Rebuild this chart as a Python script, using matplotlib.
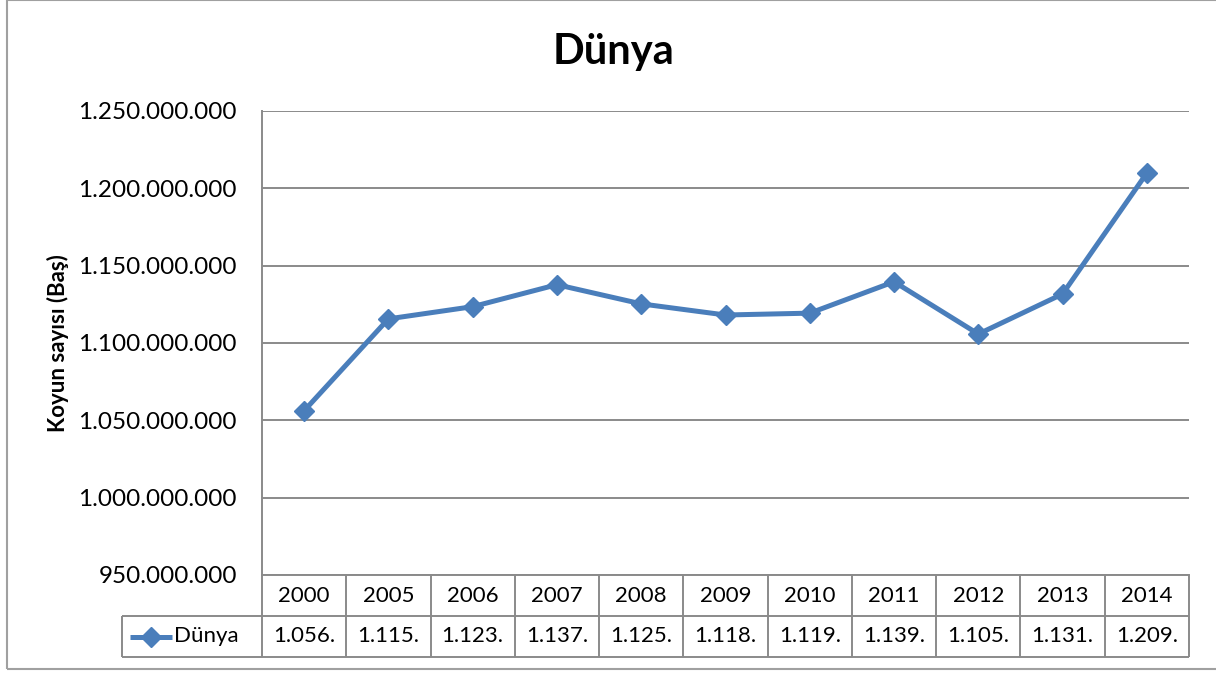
import numpy as np
import matplotlib
matplotlib.use('Agg')
import matplotlib.pyplot as plt
from matplotlib.lines import Line2D
from matplotlib.patches import Rectangle

plt.rcParams['font.family'] = ['Lato', 'DejaVu Sans']

years = ['2000', '2005', '2006', '2007', '2008', '2009', '2010', '2011', '2012', '2013', '2014']
dunya = [1056200000, 1115600000, 1123500000, 1137700000, 1125300000, 1118100000,
         1119300000, 1139600000, 1105800000, 1131700000, 1209900000]
series_name = 'Dünya'
y_ticks = [950000000, 1000000000, 1050000000, 1100000000, 1150000000, 1200000000, 1250000000]

blue = '#4a7ebb'
grid_c = '#8a8a8a'


def tr_fmt(v):
    return f'{int(v):,}'.replace(',', '.')


fig = plt.figure(figsize=(12.16, 6.73), dpi=100)
ax = fig.add_axes([262 / 1216, 98 / 673, 927 / 1216, 464 / 673])

x = np.arange(len(years))
ax.plot(x, dunya, color=blue, lw=3.6, marker='D', markersize=10, zorder=3)

ax.set_xlim(-0.5, len(years) - 0.5)
ax.set_ylim(y_ticks[0], y_ticks[-1])
ax.set_yticks(y_ticks)
ax.set_yticklabels([tr_fmt(v) for v in y_ticks], fontsize=17.5)
ax.tick_params(axis='y', length=0, pad=18)
ax.set_xticks([])
ax.grid(axis='y', color=grid_c, lw=1.4)
ax.set_axisbelow(True)
for s in ['top', 'right']:
    ax.spines[s].set_visible(False)
ax.spines['left'].set_color(grid_c)
ax.spines['bottom'].set_color(grid_c)
ax.spines['left'].set_linewidth(1.4)
ax.spines['bottom'].set_linewidth(1.4)

# data table under the plot
row_h = 41 / 464
leg_left = (122 - 262) / 927
xt = ax.get_xaxis_transform()
ax.vlines(np.arange(len(years) + 1) - 0.5, -2 * row_h, 0, transform=xt,
          color=grid_c, lw=1.4, clip_on=False)
ax.hlines([-row_h, -2 * row_h], leg_left, 1, transform=ax.transAxes,
          color=grid_c, lw=1.4, clip_on=False)
ax.vlines([leg_left], -2 * row_h, -row_h, transform=ax.transAxes,
          color=grid_c, lw=1.4, clip_on=False)
for i, (yr, v) in enumerate(zip(years, dunya)):
    ax.text(i, -row_h / 2, yr, transform=xt, ha='center', va='center', fontsize=16)
    ax.text(i, -1.5 * row_h, tr_fmt(v)[:6], transform=xt, ha='center', va='center', fontsize=16)

ax.add_line(Line2D([(130 - 262) / 927, (172 - 262) / 927], [-1.5 * row_h] * 2,
                   transform=ax.transAxes, color=blue, lw=3.6, clip_on=False,
                   solid_capstyle='butt'))
ax.add_line(Line2D([(151 - 262) / 927], [-1.5 * row_h], transform=ax.transAxes,
                   color=blue, marker='D', markersize=10, clip_on=False))
ax.text((174 - 262) / 927, -1.5 * row_h, series_name, transform=ax.transAxes,
        ha='left', va='center', fontsize=16)

fig.text(614 / 1216, 1 - 52 / 673, series_name, ha='center', va='center',
         fontsize=30, fontweight='bold')
fig.text(58 / 1216, 1 - 343 / 673, 'Koyun sayısı (Baş)', ha='center', va='center',
         rotation=90, fontsize=16, fontweight='bold')

fig.patches.append(Rectangle((7 / 1216, 4 / 673), 1.01, 1 - 4 / 673,
                             transform=fig.transFigure, fill=False,
                             edgecolor='#a0a0a0', lw=1.5))

fig.savefig('out.png', dpi=100)
